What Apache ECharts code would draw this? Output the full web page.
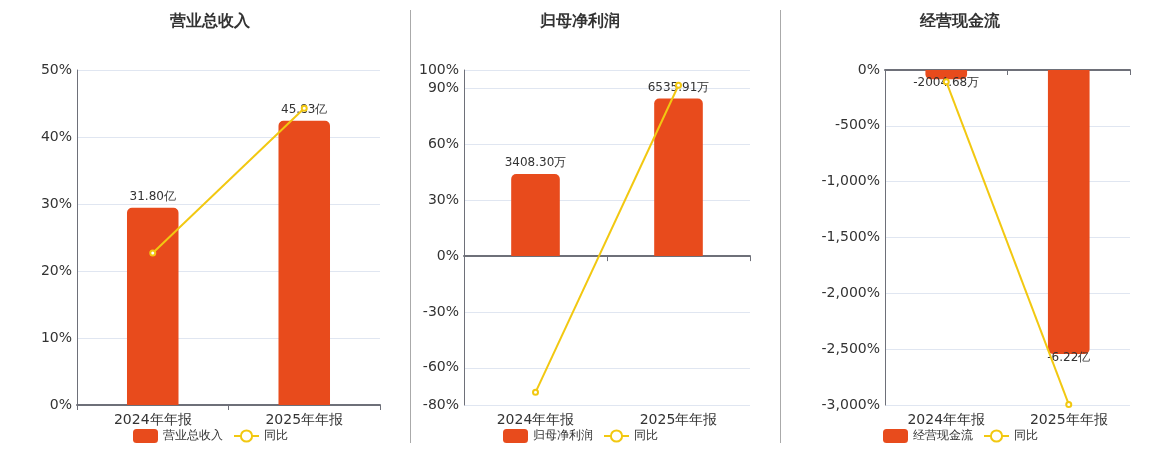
<!DOCTYPE html>
<html lang="zh">
<head>
    <meta charset="UTF-8">
    <title>财务概览</title>
    <script src="https://cdn.jsdelivr.net/npm/echarts@6/dist/echarts.min.js"></script>
    <style>
        html, body { margin: 0; padding: 0; background: #fff; }
        #main { width: 1160px; height: 450px; }
    </style>
</head>
<body>
<div id="main"></div>
<script>
    // 数据
    var categories = ['2024年年报', '2025年年报'];

    var revenue = [31.80, 45.83];          // 亿
    var revenueLabels = ['31.80亿', '45.83亿'];
    var revenueYoy = [22.7, 44.3];         // %

    var profit = [3408.30, 6535.91];       // 万
    var profitLabels = ['3408.30万', '6535.91万'];
    var profitYoy = [-73.2, 91.8];
    var profitTicks = [-80, -60, -30, 0, 30, 60, 90, 100];

    var cash = [-2004.68, -62200];         // 万
    var cashLabels = ['-2004.68万', '-6.22亿'];
    var cashYoy = [-105, -2995];

    var titles = ['营业总收入', '归母净利润', '经营现金流'];

    var barColor = '#E84B1C';
    var lineColor = '#F2C811';
    var axisColor = '#6E7079';
    var textColor = '#333';

    var grids = [
        {left: 77, top: 70, width: 303, height: 335},
        {left: 464, top: 70, width: 286, height: 335},
        {left: 885, top: 70, width: 245, height: 335}
    ];
    var centers = [210, 580, 960];

    function barData(values, labels) {
        return values.map(function (v, i) {
            var neg = v < 0;
            return {
                value: v,
                itemStyle: {borderRadius: neg ? [0, 0, 5, 5] : [5, 5, 0, 0]},
                label: {position: neg ? 'bottom' : 'top', distance: neg ? -2 : 5, formatter: labels[i]}
            };
        });
    }

    function pctAxis(gridIndex, min, max, interval) {
        return {
            type: 'value', gridIndex: gridIndex, min: min, max: max, interval: interval,
            axisLine: {show: true, lineStyle: {color: axisColor}},
            axisTick: {show: false},
            axisLabel: {formatter: '{value}%', color: textColor, fontSize: 14, margin: 5},
            splitLine: {lineStyle: {color: '#E0E6F1'}}
        };
    }

    function hiddenAxis(gridIndex, min, max) {
        return {type: 'value', gridIndex: gridIndex, min: min, max: max, show: false, splitLine: {show: false}};
    }

    var profitAxis = pctAxis(1, -80, 100);
    profitAxis.axisTick = {show: false, customValues: profitTicks};
    profitAxis.axisLabel.customValues = profitTicks;

    var option = {
        animation: false,
        textStyle: {fontFamily: 'DejaVu Sans'},
        title: titles.map(function (t, i) {
            return {
                text: t, left: centers[i] - 40, top: 14, padding: 0,
                textStyle: {fontSize: 16, fontWeight: 'bold', color: textColor}
            };
        }),
        legend: [
            {data: [titles[0], '同比'], left: 133, top: 429},
            {data: [titles[1], '同比'], left: 503, top: 429},
            {data: [titles[2], '同比'], left: 883, top: 429}
        ].map(function (l) {
            l.itemWidth = 25; l.itemHeight = 14; l.itemGap = 10; l.padding = 0;
            l.textStyle = {fontSize: 12, color: textColor};
            return l;
        }),
        grid: grids,
        xAxis: [
            // 图1
            {
                type: 'category', gridIndex: 0, data: categories, position: 'bottom',
                axisLine: {lineStyle: {color: axisColor, width: 2}},
                axisTick: {show: true, lineStyle: {color: axisColor}},
                axisLabel: {color: textColor, fontSize: 14, margin: 8}
            },
            // 图2 标签
            {
                type: 'category', gridIndex: 1, data: categories, position: 'bottom',
                axisLine: {show: false, onZero: false}, axisTick: {show: false},
                axisLabel: {color: textColor, fontSize: 14, margin: 8}
            },
            // 图2 零轴
            {
                type: 'category', gridIndex: 1, data: categories, position: 'top',
                axisLine: {onZero: true, lineStyle: {color: axisColor, width: 2}},
                axisTick: {show: true, inside: true, lineStyle: {color: axisColor}},
                axisLabel: {show: false}
            },
            // 图3 标签
            {
                type: 'category', gridIndex: 2, data: categories, position: 'bottom',
                axisLine: {show: false, onZero: false}, axisTick: {show: false},
                axisLabel: {color: textColor, fontSize: 14, margin: 8}
            },
            // 图3 零轴
            {
                type: 'category', gridIndex: 2, data: categories, position: 'top',
                axisLine: {onZero: true, lineStyle: {color: axisColor, width: 2}},
                axisTick: {show: true, inside: true, lineStyle: {color: axisColor}},
                axisLabel: {show: false}
            }
        ],
        yAxis: [
            pctAxis(0, 0, 50, 10),
            hiddenAxis(0, 0, 54),
            profitAxis,
            hiddenAxis(1, -6176, 7720),
            pctAxis(2, -3000, 0, 500),
            hiddenAxis(2, -73400, 0)
        ],
        series: [
            {
                name: titles[0], type: 'bar', xAxisIndex: 0, yAxisIndex: 1, barWidth: '34%',
                itemStyle: {color: barColor},
                label: {show: true, color: textColor, fontSize: 12},
                data: barData(revenue, revenueLabels)
            },
            {
                name: '同比', type: 'line', xAxisIndex: 0, yAxisIndex: 0, z: 5,
                symbol: 'emptyCircle', symbolSize: 5,
                itemStyle: {color: lineColor}, lineStyle: {color: lineColor, width: 2},
                data: revenueYoy
            },
            {
                name: titles[1], type: 'bar', xAxisIndex: 2, yAxisIndex: 3, barWidth: '34%',
                itemStyle: {color: barColor},
                label: {show: true, color: textColor, fontSize: 12},
                data: barData(profit, profitLabels)
            },
            {
                name: '同比', type: 'line', xAxisIndex: 2, yAxisIndex: 2, z: 5,
                symbol: 'emptyCircle', symbolSize: 5,
                itemStyle: {color: lineColor}, lineStyle: {color: lineColor, width: 2},
                data: profitYoy
            },
            {
                name: titles[2], type: 'bar', xAxisIndex: 4, yAxisIndex: 5, barWidth: '34%',
                itemStyle: {color: barColor},
                label: {show: true, color: textColor, fontSize: 12},
                data: barData(cash, cashLabels)
            },
            {
                name: '同比', type: 'line', xAxisIndex: 4, yAxisIndex: 4, z: 5,
                symbol: 'emptyCircle', symbolSize: 5,
                itemStyle: {color: lineColor}, lineStyle: {color: lineColor, width: 2},
                data: cashYoy
            }
        ],
        graphic: [
            {type: 'line', shape: {x1: 410.5, y1: 10, x2: 410.5, y2: 443}, style: {stroke: '#aaa', lineWidth: 1}},
            {type: 'line', shape: {x1: 780.5, y1: 10, x2: 780.5, y2: 443}, style: {stroke: '#aaa', lineWidth: 1}}
        ]
    };

    echarts.init(document.getElementById('main')).setOption(option);
</script>
</body>
</html>
